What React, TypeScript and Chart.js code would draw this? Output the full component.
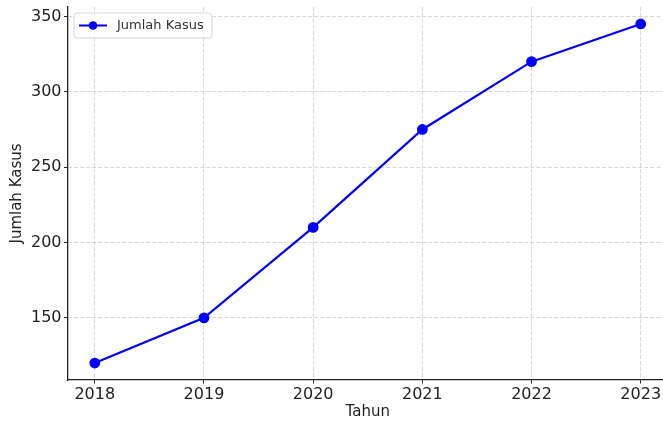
import React, { useEffect, useRef } from "react";
import { Chart, registerables } from "chart.js";

Chart.register(...registerables);

const years = [2018, 2019, 2020, 2021, 2022, 2023];
const cases = [120, 150, 210, 275, 320, 345];
const yTicks = [150, 200, 250, 300, 350];
const seriesLabel = "Jumlah Kasus";
const xTitle = "Tahun";
const yTitle = "Jumlah Kasus";

const FONT = "'DejaVu Sans', sans-serif";

const legendPlugin = {
  id: "insideLegend",
  afterDraw(chart: any) {
    const { ctx, chartArea } = chart;
    const ds = chart.data.datasets[0];
    const x = chartArea.left + 6.5;
    const y = chartArea.top + 6;
    const w = 138;
    const h = 25;
    ctx.save();
    ctx.beginPath();
    const r = 3;
    ctx.moveTo(x + r, y);
    ctx.lineTo(x + w - r, y);
    ctx.quadraticCurveTo(x + w, y, x + w, y + r);
    ctx.lineTo(x + w, y + h - r);
    ctx.quadraticCurveTo(x + w, y + h, x + w - r, y + h);
    ctx.lineTo(x + r, y + h);
    ctx.quadraticCurveTo(x, y + h, x, y + h - r);
    ctx.lineTo(x, y + r);
    ctx.quadraticCurveTo(x, y, x + r, y);
    ctx.closePath();
    ctx.fillStyle = "rgba(255,255,255,0.85)";
    ctx.fill();
    ctx.strokeStyle = "#d6d6d6";
    ctx.lineWidth = 1;
    ctx.stroke();
    const cy = y + h / 2;
    ctx.strokeStyle = ds.borderColor;
    ctx.lineWidth = 2;
    ctx.beginPath();
    ctx.moveTo(x + 5, cy);
    ctx.lineTo(x + 33, cy);
    ctx.stroke();
    ctx.fillStyle = ds.borderColor;
    ctx.beginPath();
    ctx.arc(x + 19, cy, 4.3, 0, Math.PI * 2);
    ctx.fill();
    ctx.fillStyle = "#333";
    ctx.font = `13px ${FONT}`;
    ctx.textBaseline = "middle";
    ctx.textAlign = "left";
    ctx.fillText(ds.label, x + 43, cy + 0.5);
    ctx.restore();
  },
};

export default function App() {
  const ref = useRef<HTMLCanvasElement | null>(null);

  useEffect(() => {
    if (!ref.current) return;
    const chart = new Chart(ref.current, {
      type: "line",
      data: {
        datasets: [
          {
            label: seriesLabel,
            data: years.map((yr, i) => ({ x: yr, y: cases[i] })),
            borderColor: "#0000ff",
            backgroundColor: "#0000ff",
            pointBackgroundColor: "#0000ff",
            pointBorderColor: "#0000ff",
            borderWidth: 2.2,
            pointRadius: 4.3,
            tension: 0,
          },
        ],
      },
      options: {
        responsive: false,
        animation: false,
        devicePixelRatio: 1,
        layout: { padding: { top: 7, right: 32, left: 0, bottom: 0 } },
        plugins: {
          legend: { display: false },
          tooltip: { enabled: false },
        },
        scales: {
          x: {
            type: "linear",
            min: 2017.75,
            max: 2023.25,
            afterBuildTicks: (scale: any) => {
              scale.ticks = years.map((v) => ({ value: v }));
            },
            afterFit: (scale: any) => {
              scale.height = 41;
            },
            ticks: {
              callback: (v: any) => String(v),
              font: { family: FONT, size: 16 },
              color: "#222",
              padding: 2,
              maxRotation: 0,
            },
            grid: {
              color: "#cccccc",
              lineWidth: 0.8,
              tickColor: "#222",
              tickLength: 3.5,
              tickWidth: 1,
            },
            border: { display: true, color: "#222", width: 1.3, dash: [4, 2] },
            title: {
              display: true,
              text: xTitle,
              font: { family: FONT, size: 15 },
              color: "#222",
              padding: 0,
            },
          },
          y: {
            type: "linear",
            min: 108.75,
            max: 356.25,
            afterBuildTicks: (scale: any) => {
              scale.ticks = yTicks.map((v) => ({ value: v }));
            },
            afterFit: (scale: any) => {
              scale.width = 67.5;
              scale.paddingTop = 0;
              scale.paddingBottom = 0;
            },
            ticks: {
              callback: (v: any) => String(v),
              font: { family: FONT, size: 16 },
              color: "#222",
              padding: 2.5,
            },
            grid: {
              color: "#cccccc",
              lineWidth: 0.8,
              tickColor: "#222",
              tickLength: 3.5,
              tickWidth: 1,
            },
            border: { display: true, color: "#222", width: 1.3, dash: [4, 2] },
            title: {
              display: true,
              text: yTitle,
              font: { family: FONT, size: 15 },
              color: "#222",
              padding: { top: 8.5, bottom: 0 },
            },
          },
        },
      },
      plugins: [legendPlugin],
    } as any);
    return () => chart.destroy();
  }, []);

  return (
    <div
      style={{
        position: "fixed",
        left: 0,
        top: 0,
        width: 663,
        height: 421,
        overflow: "hidden",
        background: "#fff",
      }}
    >
      <canvas ref={ref} width={700} height={421} style={{ display: "block", width: 700, height: 421 }} />
    </div>
  );
}
